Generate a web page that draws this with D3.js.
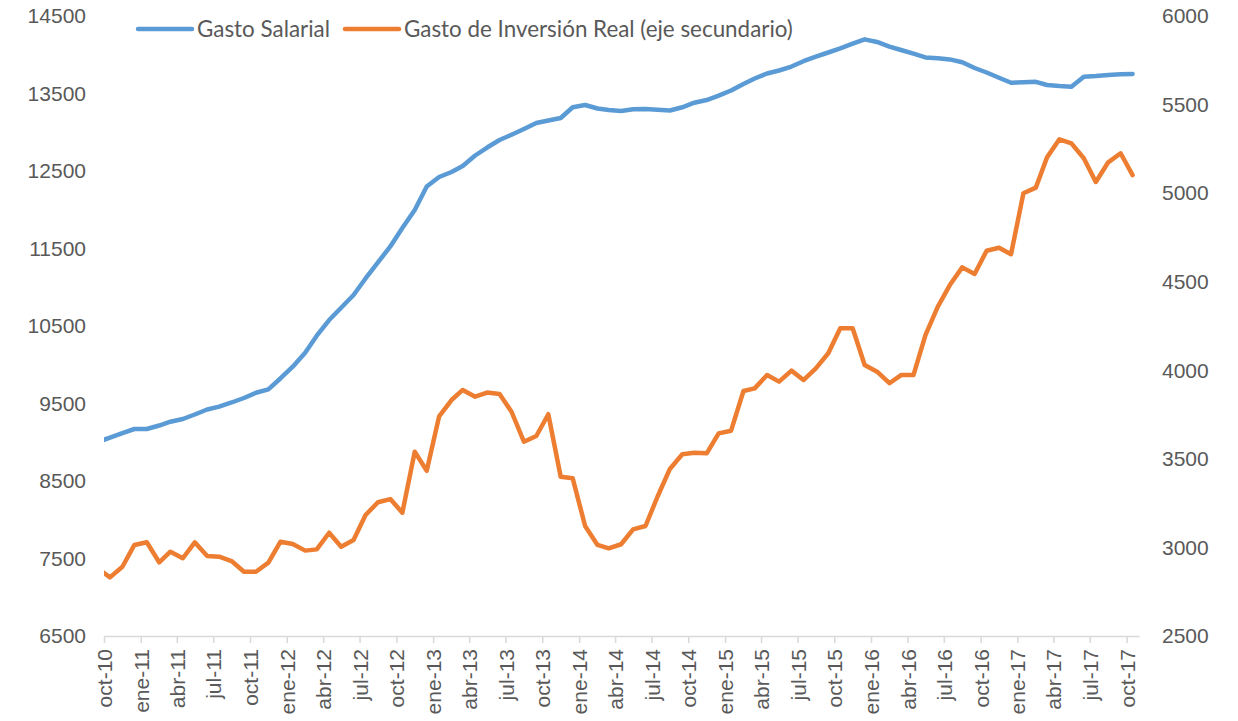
<!DOCTYPE html>
<html>
<head>
<meta charset="utf-8">
<script src="https://cdn.jsdelivr.net/npm/d3@7"></script>
<style>
  body { margin: 0; background: #fff; }
  svg { font-family: Lato, "Open Sans", sans-serif; }
</style>
</head>
<body>
<div id="graph"></div>
<script>
// monthly series, first month is sep-10 (clipped at the left edge as in the original)
const firstMonth = new Date(2010, 8, 1);
const gastoSalarial = [
  9003, 9061, 9119, 9171, 9171, 9216, 9265, 9300, 9358, 9423, 9459, 9513, 9571, 9639, 9683,
  9823, 9975, 10156, 10375, 10577, 10736, 10900, 11113, 11322, 11526, 11765, 11997, 12300,
  12423, 12487, 12565, 12700, 12803, 12900, 12968, 13042, 13119, 13152, 13184, 13322, 13352,
  13306, 13287, 13274, 13296, 13300, 13290, 13281, 13322, 13381, 13416, 13472, 13539, 13623,
  13694, 13758, 13797, 13848, 13917, 13975, 14029, 14081, 14143, 14199, 14165, 14106, 14061,
  14014, 13966, 13955, 13940, 13904, 13829, 13771, 13703, 13639, 13645, 13651, 13610, 13597,
  13588, 13717, 13726, 13739, 13748, 13752
];
const gastoInversion = [
  2880, 2831, 2891, 3014, 3029, 2916, 2976, 2939, 3029, 2952, 2948, 2923, 2863, 2863, 2914,
  3032, 3019, 2982, 2989, 3083, 3004, 3042, 3183, 3255, 3273, 3196, 3540, 3433, 3740, 3832,
  3889, 3851, 3874, 3866, 3766, 3597, 3629, 3752, 3399, 3390, 3121, 3014, 2995, 3018, 3102,
  3121, 3286, 3443, 3526, 3535, 3531, 3644, 3659, 3883, 3898, 3973, 3936, 3998, 3945, 4011,
  4096, 4237, 4237, 4030, 3992, 3927, 3973, 3973, 4199, 4359, 4481, 4581, 4544, 4675, 4692,
  4655, 4999, 5031, 5202, 5304, 5281, 5197, 5063, 5174, 5225, 5102
];
const leftTicks = [6500, 7500, 8500, 9500, 10500, 11500, 12500, 13500, 14500];
const rightTicks = [2500, 3000, 3500, 4000, 4500, 5000, 5500, 6000];
const mesesEs = ['ene', 'feb', 'mar', 'abr', 'may', 'jun', 'jul', 'ago', 'sep', 'oct', 'nov', 'dic'];
const seriesNames = ['Gasto Salarial', 'Gasto de Inversión Real (eje secundario)'];
const colors = ['#5B9BD5', '#ED7D31'];

const width = 1238, height = 721;
const plotLeft = 104, plotRight = 1139, plotTop = 16, plotBottom = 636;
const textColor = '#595959';

const dates = gastoSalarial.map((d, i) => new Date(firstMonth.getFullYear(), firstMonth.getMonth() + i, 16));

const x = d3.scaleTime()
  .domain([new Date(2010, 9, 1), new Date(2017, 10, 1)])
  .range([plotLeft, plotRight]);
const yLeft = d3.scaleLinear().domain([6500, 14500]).range([plotBottom, plotTop]);
const yRight = d3.scaleLinear().domain([2500, 6000]).range([plotBottom, plotTop]);

const svg = d3.select('#graph')
  .append('svg')
  .attr('width', width)
  .attr('height', height);

svg.append('clipPath').attr('id', 'plot')
  .append('rect')
  .attr('x', plotLeft).attr('y', 0)
  .attr('width', plotRight - plotLeft + 10).attr('height', plotBottom);

// x axis
const xTicks = d3.timeMonth.every(3).range(new Date(2010, 9, 1), new Date(2017, 10, 1));
const xAxis = d3.axisBottom(x)
  .tickValues(xTicks)
  .tickSize(7)
  .tickSizeOuter(0)
  .tickFormat(d => mesesEs[d.getMonth()] + '-' + String(d.getFullYear()).slice(2));
const gx = svg.append('g')
  .attr('transform', 'translate(0,' + plotBottom + ')')
  .call(xAxis);
gx.select('.domain').attr('stroke', '#d9d9d9').attr('stroke-width', 1.5);
gx.selectAll('.tick line').attr('stroke', '#d9d9d9').attr('stroke-width', 1.5);
gx.selectAll('.tick text')
  .attr('fill', textColor)
  .style('font-size', '21px')
  .attr('text-anchor', 'end')
  .attr('transform', 'rotate(-90)')
  .attr('x', -13)
  .attr('y', 0)
  .attr('dy', '0.36em');

// left axis
const gl = svg.append('g')
  .attr('transform', 'translate(' + plotLeft + ',0)')
  .call(d3.axisLeft(yLeft).tickValues(leftTicks).tickFormat(d3.format('d')).tickSize(0).tickPadding(18));
gl.select('.domain').remove();
gl.selectAll('.tick text').attr('fill', textColor).style('font-size', '21px');

// right axis
const gr = svg.append('g')
  .attr('transform', 'translate(' + plotRight + ',0)')
  .call(d3.axisRight(yRight).tickValues(rightTicks).tickFormat(d3.format('d')).tickSize(0).tickPadding(23));
gr.select('.domain').remove();
gr.selectAll('.tick text').attr('fill', textColor).style('font-size', '21px');

// lines
const lineLeft = d3.line().x((d, i) => x(dates[i])).y(d => yLeft(d));
const lineRight = d3.line().x((d, i) => x(dates[i])).y(d => yRight(d));

const plot = svg.append('g').attr('clip-path', 'url(#plot)');
plot.append('path')
  .datum(gastoSalarial)
  .attr('d', lineLeft)
  .attr('fill', 'none')
  .attr('stroke', colors[0])
  .attr('stroke-width', 4.5)
  .attr('stroke-linejoin', 'round')
  .attr('stroke-linecap', 'round');
plot.append('path')
  .datum(gastoInversion)
  .attr('d', lineRight)
  .attr('fill', 'none')
  .attr('stroke', colors[1])
  .attr('stroke-width', 4.5)
  .attr('stroke-linejoin', 'round')
  .attr('stroke-linecap', 'round');

// legend
const legendX = [138, 345];
const legend = svg.append('g');
seriesNames.forEach((name, i) => {
  const g = legend.append('g').attr('transform', 'translate(' + legendX[i] + ',29)');
  g.append('line')
    .attr('x1', 0).attr('x2', 54)
    .attr('stroke', colors[i])
    .attr('stroke-width', 4.5)
    .attr('stroke-linecap', 'round');
  g.append('text')
    .attr('x', 59)
    .attr('dy', '0.35em')
    .attr('fill', textColor)
    .style('font-size', '22.4px')
    .text(name);
});
</script>
</body>
</html>
